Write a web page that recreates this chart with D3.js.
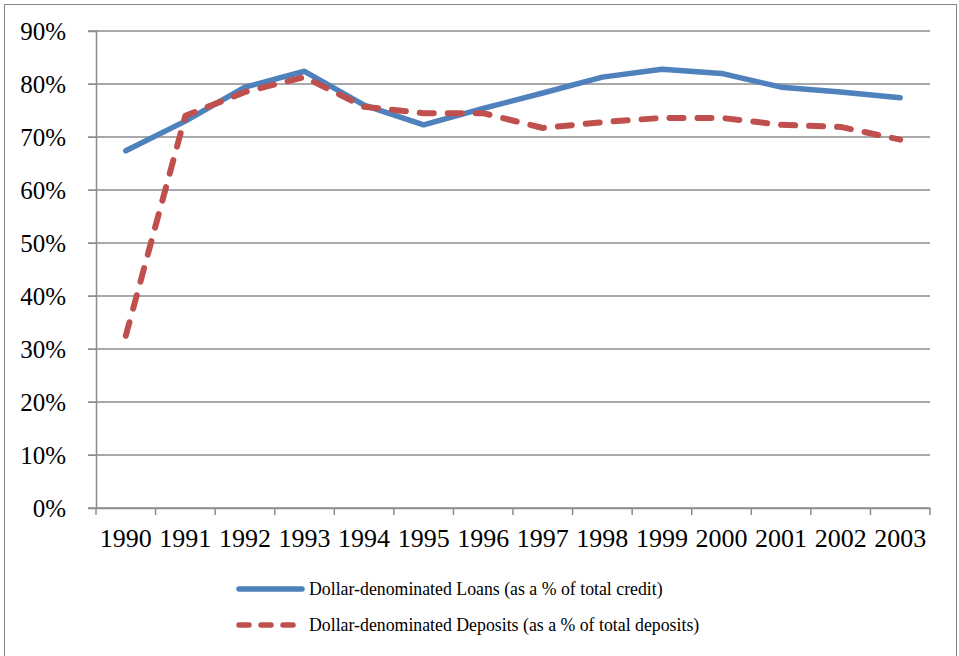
<!DOCTYPE html>
<html lang="en">
<head>
<meta charset="UTF-8">
<title>Dollarization</title>
<script src="https://cdn.jsdelivr.net/npm/d3@7"></script>
<style>
	body { margin: 0; background: #fff; }
	svg { display: block; font-family: "Liberation Serif", "Times New Roman", serif; }
	.axis text { font-size: 25px; fill: #000; font-family: "Liberation Serif", "Times New Roman", serif; }
	.axis.x text { font-size: 26px; }
	.legend text { font-size: 17.8px; fill: #000; }
</style>
</head>
<body>
<script>
	// chart values
	var years = ['1990','1991','1992','1993','1994','1995','1996','1997','1998','1999','2000','2001','2002','2003'];
	var loans = [67.4, 73.0, 79.4, 82.4, 76.0, 72.3, 75.4, 78.3, 81.3, 82.8, 82.0, 79.4, 78.5, 77.4];
	var deposits = [32.5, 74.0, 78.5, 81.3, 75.7, 74.5, 74.5, 71.7, 72.8, 73.6, 73.6, 72.3, 71.9, 69.5];
	var yTicks = [0, 10, 20, 30, 40, 50, 60, 70, 80, 90];
	var legendLabels = ['Dollar-denominated Loans (as a % of total credit)',
		'Dollar-denominated Deposits (as a % of total deposits)'];

	var W = 959, H = 656;
	var margin = {top: 31, right: 29, bottom: 148, left: 96};

	var svg = d3.select('body').append('svg')
		.attr('width', W)
		.attr('height', H);

	// outer frame
	svg.append('rect')
		.attr('x', 4.5).attr('y', 4.5)
		.attr('width', W - 7).attr('height', H)
		.attr('fill', 'none')
		.attr('stroke', '#868686');

	var x = d3.scaleBand()
		.domain(years)
		.range([margin.left, W - margin.right])
		.padding(0);

	var y = d3.scaleLinear()
		.domain([0, 90])
		.range([H - margin.bottom, margin.top]);

	var cx = function (d, i) { return x(years[i]) + x.bandwidth() / 2; };

	// gridlines
	svg.append('g')
		.selectAll('line')
		.data(yTicks)
		.enter()
		.append('line')
		.attr('x1', margin.left - 8)
		.attr('x2', W - margin.right)
		.attr('y1', function (d) { return y(d); })
		.attr('y2', function (d) { return y(d); })
		.attr('stroke', '#8c8c8c')
		.attr('stroke-width', 1.5);

	// y axis
	var yAxis = svg.append('g')
		.attr('class', 'axis y')
		.attr('transform', 'translate(' + margin.left + ',0)')
		.call(d3.axisLeft(y)
			.tickValues(yTicks)
			.tickFormat(function (d) { return d + '%'; })
			.tickSize(8)
			.tickPadding(22));
	yAxis.attr('font-family', null);
	yAxis.select('.domain').attr('stroke', '#8c8c8c').attr('stroke-width', 1.5);
	yAxis.selectAll('.tick line').attr('stroke', '#8c8c8c');

	// x axis
	var xAxis = svg.append('g')
		.attr('class', 'axis x')
		.attr('transform', 'translate(0,' + y(0) + ')')
		.call(d3.axisBottom(x).tickSize(0).tickPadding(21));
	xAxis.attr('font-family', null);
	xAxis.select('.domain').attr('stroke', '#8c8c8c').attr('stroke-width', 1.5);

	var bounds = years.map(function (d) { return x(d); }).concat([x.range()[1]]);
	xAxis.selectAll('.bound')
		.data(bounds)
		.enter()
		.append('line')
		.attr('class', 'bound')
		.attr('x1', function (d) { return d; })
		.attr('x2', function (d) { return d; })
		.attr('y1', 0)
		.attr('y2', 7)
		.attr('stroke', '#8c8c8c')
		.attr('stroke-width', 1.5);

	var line = d3.line()
		.x(cx)
		.y(function (d) { return y(d); });

	svg.append('path')
		.datum(loans)
		.attr('d', line)
		.attr('fill', 'none')
		.attr('stroke', '#4F81BD')
		.attr('stroke-width', 5.5)
		.attr('stroke-linecap', 'round')
		.attr('stroke-linejoin', 'round');

	svg.append('path')
		.datum(deposits)
		.attr('d', line)
		.attr('fill', 'none')
		.attr('stroke', '#C0504D')
		.attr('stroke-width', 6)
		.attr('stroke-dasharray', '14,14')
		.attr('stroke-linecap', 'round')
		.attr('stroke-linejoin', 'round');

	// legend
	var legend = svg.selectAll('.legend')
		.data(legendLabels)
		.enter()
		.append('g')
		.attr('class', 'legend')
		.attr('transform', function (d, i) { return 'translate(239,' + (589 + i * 36) + ')'; });

	legend.append('line')
		.attr('x1', 0).attr('x2', 63)
		.attr('y1', 0).attr('y2', 0)
		.attr('stroke', function (d, i) { return i ? '#C0504D' : '#4F81BD'; })
		.attr('stroke-width', 5.5)
		.attr('stroke-linecap', 'round')
		.attr('stroke-dasharray', function (d, i) { return i ? '10,12' : null; });

	legend.append('text')
		.attr('x', 70)
		.attr('y', 6)
		.text(function (d) { return d; });
</script>
</body>
</html>
